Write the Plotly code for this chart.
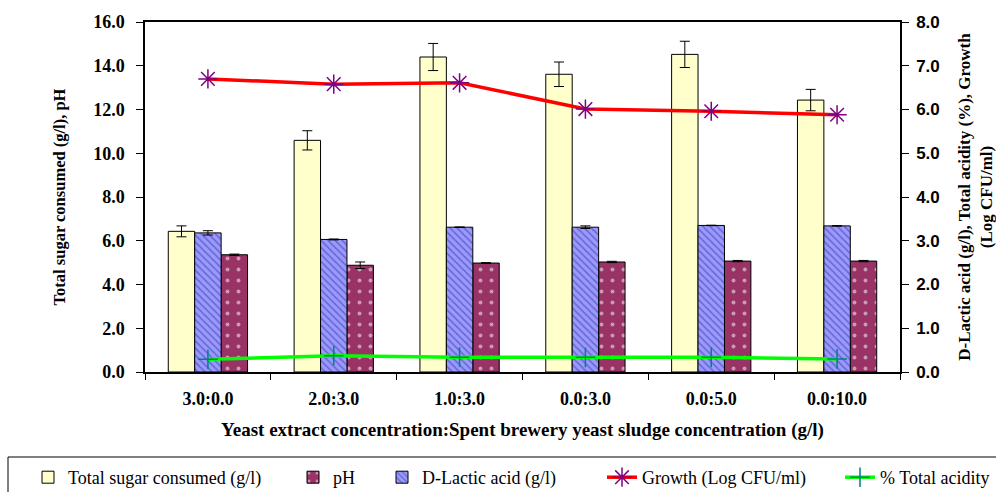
import plotly.graph_objects as go

categories = ["3.0:0.0", "2.0:3.0", "1.0:3.0", "0.0:3.0", "0.0:5.0", "0.0:10.0"]
sugar = [6.43, 10.59, 14.40, 13.61, 14.52, 12.43]
sugar_err = [0.25, 0.44, 0.62, 0.56, 0.60, 0.49]
ph = [5.36, 4.88, 4.98, 5.03, 5.07, 5.07]
ph_err = [0.03, 0.15, 0.02, 0.03, 0.03, 0.03]
lactic = [3.18, 3.03, 3.31, 3.31, 3.35, 3.34]
lactic_err = [0.05, 0.01, 0.005, 0.03, 0.005, 0.005]
growth = [6.70, 6.58, 6.61, 6.01, 5.96, 5.88]
acidity = [0.29, 0.37, 0.34, 0.335, 0.335, 0.30]

SERIF = "Liberation Serif"
SANS = "Liberation Sans"

fig = go.Figure()
fig.add_trace(go.Bar(
    x=categories, y=sugar, name="Total sugar consumed (g/l)",
    width=0.21, offset=-0.315, legend="legend",
    marker=dict(color="#FFFFCC", line=dict(color="black", width=1)),
    error_y=dict(type="data", array=sugar_err, color="black", thickness=1, width=5),
    yaxis="y"))
fig.add_trace(go.Bar(
    x=categories, y=ph, name="pH",
    width=0.21, offset=0.105, legend="legend2",
    marker=dict(color="#993366", line=dict(color="black", width=1),
                pattern=dict(shape=".", fgcolor="white", bgcolor="#993366", size=11, solidity=0.1)),
    error_y=dict(type="data", array=ph_err, color="black", thickness=1, width=5),
    yaxis="y"))
fig.add_trace(go.Bar(
    x=categories, y=lactic, name="D-Lactic acid (g/l)",
    width=0.21, offset=-0.105, legend="legend3",
    marker=dict(color="#9999FF", line=dict(color="black", width=1),
                pattern=dict(shape="\\", fgcolor="#333399", bgcolor="#9999FF", size=5, solidity=0.3)),
    error_y=dict(type="data", array=lactic_err, color="black", thickness=1, width=5),
    yaxis="y2"))
fig.add_trace(go.Scatter(
    x=categories, y=growth, name="Growth (Log CFU/ml)", mode="lines+markers",
    legend="legend4",
    line=dict(color="#FF0000", width=3.5),
    marker=dict(symbol="asterisk-open", size=16, color="#800080", line=dict(color="#800080", width=1.5)),
    yaxis="y2"))
fig.add_trace(go.Scatter(
    x=categories, y=acidity, name="% Total acidity", mode="lines+markers",
    legend="legend5",
    line=dict(color="#00FF00", width=3.5),
    marker=dict(symbol="cross-thin-open", size=14, color="#008080", line=dict(color="#008080", width=1.5)),
    yaxis="y2"))

legend_x = [28, 293, 382, 602, 840]
def make_legend(px):
    return dict(orientation="h", xref="container", yref="container",
                x=px / 996, y=1 - 459 / 492, xanchor="left", yanchor="top",
                font=dict(family=SERIF, size=18, color="black"),
                bgcolor="rgba(0,0,0,0)", itemwidth=30)

fig.update_layout(
    width=996, height=492,
    margin=dict(l=145, r=96, t=22, b=120, autoexpand=False),
    paper_bgcolor="white", plot_bgcolor="white",
    barmode="overlay",
    showlegend=True,
    legend=make_legend(legend_x[0]),
    legend2=make_legend(legend_x[1]),
    legend3=make_legend(legend_x[2]),
    legend4=make_legend(legend_x[3]),
    legend5=make_legend(legend_x[4]),
    xaxis=dict(
        showline=True, linecolor="black", linewidth=1.5, mirror=True,
        ticks="outside", ticklen=6, tickcolor="black", tickson="boundaries",
        ticklabelstandoff=10, automargin=False,
        tickfont=dict(family=SERIF, size=18, color="black", weight="bold"),
        title=dict(text="Yeast extract concentration:Spent brewery yeast sludge concentration (g/l)",
                   font=dict(family=SERIF, size=19, color="black", weight="bold"), standoff=14),
        showgrid=False),
    yaxis=dict(
        range=[0, 16], dtick=2, tickformat=".1f",
        showline=True, linecolor="black", linewidth=1.5,
        ticks="outside", ticklen=7, tickcolor="black", ticklabelstandoff=8,
        automargin=False,
        tickfont=dict(family=SERIF, size=18, color="black", weight="bold"),
        title=dict(text="Total sugar consumed (g/l), pH",
                   font=dict(family=SERIF, size=16.5, color="black", weight="bold"), standoff=23),
        showgrid=False, zeroline=False),
    yaxis2=dict(
        range=[0, 8], dtick=1, tickformat=".1f", overlaying="y", side="right",
        showline=True, linecolor="black", linewidth=1.5,
        ticks="outside", ticklen=7, tickcolor="black", ticklabelstandoff=4,
        automargin=False,
        tickfont=dict(family=SANS, size=17, color="black", weight="bold"),
        title=dict(text="D-Lactic acid (g/l), Total acidity (%), Growth<br>(Log CFU/ml)",
                   font=dict(family=SERIF, size=17, color="black", weight="bold"), standoff=23),
        showgrid=False, zeroline=False),
)

# legend frame
L, R = 145, 900
T, B = 22, 372
def px_x(p):
    return (p - L) / (R - L)
def px_y(p):
    return (B - p) / (B - T)
fig.add_shape(type="rect", xref="paper", yref="paper",
              x0=px_x(8), x1=px_x(1000), y0=px_y(496), y1=px_y(457),
              line=dict(color="black", width=1), fillcolor="rgba(0,0,0,0)")

fig.write_html("out.html")
